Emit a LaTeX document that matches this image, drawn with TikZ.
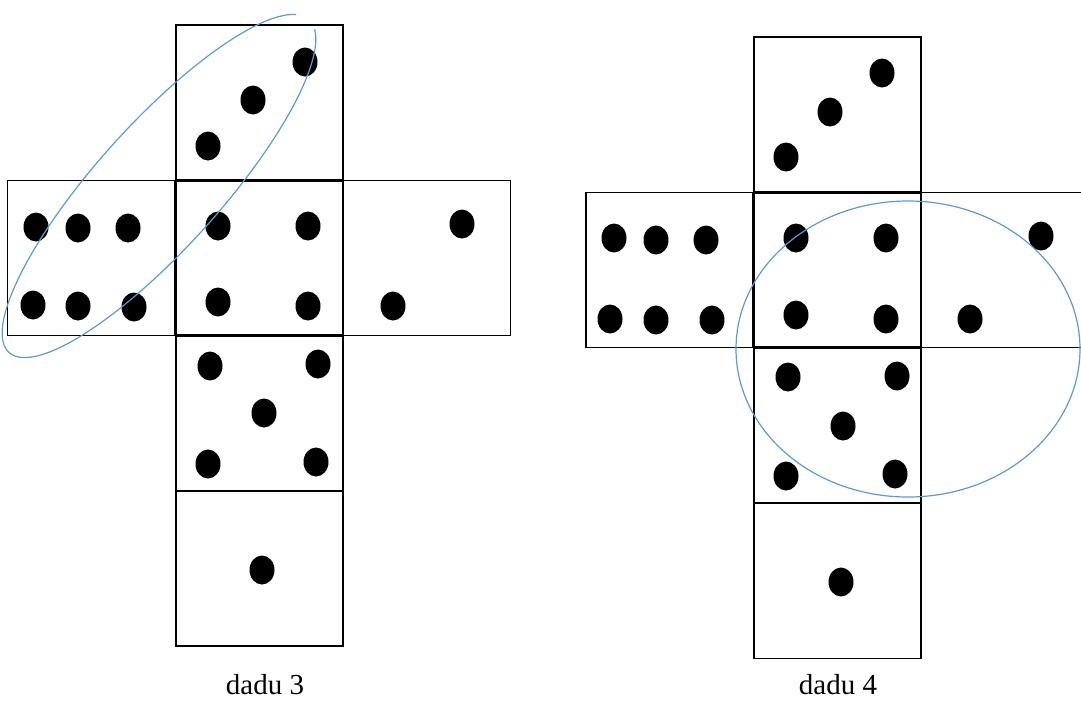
\documentclass[tikz,border=0pt]{standalone}
\usepackage{fontspec}
\setmainfont{Liberation Serif}
\usetikzlibrary{shapes.geometric}
\definecolor{ringblue}{RGB}{91,155,213}

\begin{document}
\begin{tikzpicture}[
  x=1pt, y=-1pt,
  face/.style={draw, line width=1.8pt, minimum width=167pt,
               minimum height=155pt, inner sep=0pt, outer sep=0pt},
  mid/.style={face, line width=2.8pt},
  pip/.style={ellipse, fill=black, inner sep=0pt,
              minimum width=25pt, minimum height=29pt},
  ring/.style={draw=ringblue, line width=1.2pt},
  netlabel/.style={font=\fontsize{29}{30}\selectfont, anchor=base,
                   inner sep=0pt}]

\useasboundingbox (0,0) rectangle (1081,702);

% net of dadu 3
\node[face] (t3) at (259.5,102.5) {};
\node[face] (w3) at (91,258)      {};
\node[face] (e3) at (427,258)     {};
\node[face] (s3) at (259.5,413.5) {};
\node[face] (b3) at (259.5,568.5) {};
\node[mid]  (c3) at (259.5,258)   {};

\foreach \px/\py [count=\i] in {208/146, 253/100, 305/62,
    36/227, 78/228, 128/228, 33/305, 78/306, 134/307,
    218/226, 308/226, 218/302, 308/306,
    462/224, 393/306,
    210/366, 318/364, 264/413, 208/464, 316/462,
    262/570}
  \node[pip] (a\i) at (\px,\py) {};

\node[netlabel] (l3) at (265,694) {dadu 3};

% net of dadu 4
\node[face] (t4) at (837.5,114.5) {};
\node[face] (w4) at (669.5,270)   {};
\node[face] (e4) at (1004.5,270)  {};
\node[face] (s4) at (837.5,425.5) {};
\node[face] (b4) at (837.5,581)   {};
\node[mid]  (c4) at (837.5,270)   {};

\foreach \px/\py [count=\i] in {786/157, 830/112, 882/73,
    614/238, 656/240, 706/240, 610/319, 656/320, 712/320,
    796/238, 886/238, 796/315, 886/319,
    1041/236, 970/319,
    788/377, 897/376, 843/426, 786/476, 895/474,
    841/582}
  \node[pip] (b\i) at (\px,\py) {};

\node[netlabel] (l4) at (838,694) {dadu 4};

% marked faces
\begin{scope}[shift={(159,186)}, rotate=48]
  \draw[ring] (12:224pt and 62pt)
    arc[start angle=12, end angle=350, x radius=224pt, y radius=62pt];
\end{scope}
\draw[ring] (908,349) ellipse[x radius=172pt, y radius=148pt];
\end{tikzpicture}
\end{document}
